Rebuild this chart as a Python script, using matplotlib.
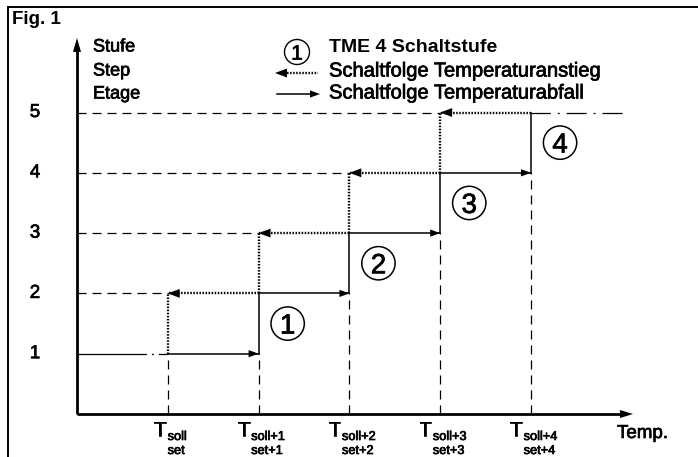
import matplotlib
matplotlib.use('Agg')
import matplotlib.pyplot as plt
import matplotlib.patheffects as pe
from matplotlib.lines import Line2D

# Schaltstufen-Diagramm TME 4
plt.rcParams['font.family'] = ['Liberation Sans', 'DejaVu Sans']
plt.rcParams['lines.scale_dashes'] = False

steps = [1, 2, 3, 4, 5]                      # Stufe / Step / Etage
switch_points = [1, 2, 3, 4, 5]              # T_soll ... T_soll+4
sub_labels = ['soll', 'soll+1', 'soll+2', 'soll+3', 'soll+4']
set_labels = ['set', 'set+1', 'set+2', 'set+3', 'set+4']
stage_labels = ['1', '2', '3', '4']
x_end = 6.0                                  # Ende der Strichpunktlinie auf Stufe 5

W, H = 698, 457
X0, Y0, PX, PY = 77, 414, 90.8, 60.3

# etwas kraeftigere Schrift (Helvetica Medium)
MED = dict(path_effects=[pe.withStroke(linewidth=0.5, foreground='k')])

def d(x, y):
    # Pixel -> Datenkoordinaten
    return (x - X0) / PX, (Y0 - y) / PY

fig = plt.figure(figsize=(W / 100, H / 100), dpi=100)
ax = fig.add_axes([0, 0, 1, 1])
ax.set_xlim(-X0 / PX, (W - X0) / PX)
ax.set_ylim(-(H - Y0) / PY, Y0 / PY)
ax.axis('off')

DASH = (0, (6.5, 4.3))
DOT = (0, (1.1, 1.1))
DASHDOT = (0, (14.4, 5, 1.4, 5))

def head(xt, yt, dx, dy, L, Wd):
    ax.annotate('', xy=(xt, yt), xytext=(xt - dx, yt - dy),
                arrowprops=dict(arrowstyle=f'-|>,head_length={L},head_width={Wd}',
                                lw=0, color='k', mutation_scale=1,
                                shrinkA=0, shrinkB=0))

# Rahmen
fig.add_artist(Line2D([8 / W, 1], [1 - 7 / H, 1 - 7 / H], color='k', lw=1.4))
fig.add_artist(Line2D([8 / W, 8 / W], [1 - 7 / H, 0], color='k', lw=1.4))
fig.text(12 / W, 1 - 19 / H, 'Fig. 1', fontsize=13.5, fontweight='bold', va='center', ha='left')

# Achsen
x_tip, _ = d(633, 0)
_, y_tip = d(0, 38)
ax.plot([0, x_tip - 0.08], [0, 0], color='k', lw=2, solid_capstyle='butt')
ax.plot([0, 0], [0, y_tip - 0.12], color='k', lw=2, solid_capstyle='butt')
head(x_tip, 0, 0.3, 0, 9.4, 2.9)
head(0, y_tip, 0, 0.4, 10, 2.9)

# horizontale Hilfslinien
for k in steps[1:]:
    ax.plot([0, switch_points[k - 2]], [k, k], color='k', lw=0.9, ls=DASH)
ax.plot([0, switch_points[0]], [steps[0], steps[0]], color='k', lw=0.9,
        ls=(0, (50, 3.6, 1.4, 3.6)))
ax.plot([x_end, switch_points[-1]], [steps[-1], steps[-1]], color='k', lw=0.9, ls=DASHDOT)

# vertikale Hilfslinien
for j, xs in enumerate(switch_points):
    ax.plot([xs, xs], [0, max(1, j)], color='k', lw=0.9, ls=DASH)

# Schaltfolge Temperaturabfall (durchgezogen)
for k in steps[:-1]:
    ax.plot([switch_points[k - 1], switch_points[k]], [k, k], color='k', lw=1.1)
    ax.plot([switch_points[k], switch_points[k]], [k, k + 1], color='k', lw=1.1)
    head(switch_points[k], k, 0.2, 0, 7.2, 2.6)

# Schaltfolge Temperaturanstieg (gepunktet)
for k in steps[1:]:
    ax.plot([switch_points[k - 2], switch_points[k - 2]], [k - 1, k], color='k', lw=1.7, ls=DOT)
    ax.plot([switch_points[k - 1], switch_points[k - 2]], [k, k], color='k', lw=1.7, ls=DOT)
    head(switch_points[k - 2], k, -0.2, 0, 8.6, 3.2)

# eingekreiste Schaltstufen
for k, lab in zip(steps[:-1], stage_labels):
    cx, cy = switch_points[k] + 0.32, k + 0.5
    ax.scatter([cx], [cy], s=24 ** 2, facecolors='none', edgecolors='k', linewidths=1.1)
    ax.annotate(lab, (cx, cy), xytext=(0, -7.2), textcoords='offset points',
                ha='center', va='baseline', fontsize=20, **MED)

# y-Beschriftung
for k in steps:
    ax.text(d(35, 0)[0], k, str(k), fontsize=13.5, ha='center', va='center', **MED)
for txt, yy in zip(['Stufe', 'Step', 'Etage'], [47, 71, 94]):
    ax.text(*d(93, yy), txt, fontsize=13, ha='left', va='center', **MED)

# x-Beschriftung
fig.canvas.draw()
r = fig.canvas.get_renderer()
for xs, sl, st in zip(switch_points, sub_labels, set_labels):
    t_main = ax.text(0, 0, 'T', fontsize=15)
    t_sub = ax.text(0, 0, sl, fontsize=9.2)
    tw = t_main.get_window_extent(r).width
    sw = t_sub.get_window_extent(r).width
    t_main.remove()
    t_sub.remove()
    xc = X0 + xs * PX + 2
    left = xc - (tw + sw) / 2
    ax.text(*d(left + tw, 436), 'T', fontsize=15, ha='right', va='baseline', **MED)
    ax.text(*d(left + tw + 1, 440), sl, fontsize=9.2, ha='left', va='baseline', **MED)
    ax.text(*d(left + tw + sw / 2, 454), st, fontsize=9.2, ha='center', va='baseline', **MED)
ax.text(*d(617, 438), 'Temp.', fontsize=13.5, ha='left', va='baseline', **MED)

# Legende
ax.scatter(*d(297, 52), s=18 ** 2, facecolors='none', edgecolors='k', linewidths=1.0)
ax.annotate('1', d(297, 52), xytext=(0, -5.5), textcoords='offset points',
            ha='center', va='baseline', fontsize=15, **MED)
ax.text(*d(329, 48), 'TME 4 Schaltstufe', fontsize=14, fontweight='bold', ha='left', va='center')
ax.plot([d(284, 0)[0], d(318, 0)[0]], [d(0, 73)[1]] * 2, color='k', lw=1.7, ls=DOT)
head(d(275, 0)[0], d(0, 73)[1], -0.2, 0, 8.6, 3.2)
ax.text(*d(329, 71), 'Schaltfolge Temperaturanstieg', fontsize=14.5, ha='left', va='center', **MED)
ax.plot([d(277, 0)[0], d(312, 0)[0]], [d(0, 94)[1]] * 2, color='k', lw=1.1)
head(d(320, 0)[0], d(0, 94)[1], 0.2, 0, 7.2, 2.6)
ax.text(*d(329, 93), 'Schaltfolge Temperaturabfall', fontsize=14.5, ha='left', va='center', **MED)

fig.savefig('out.png', dpi=100)
